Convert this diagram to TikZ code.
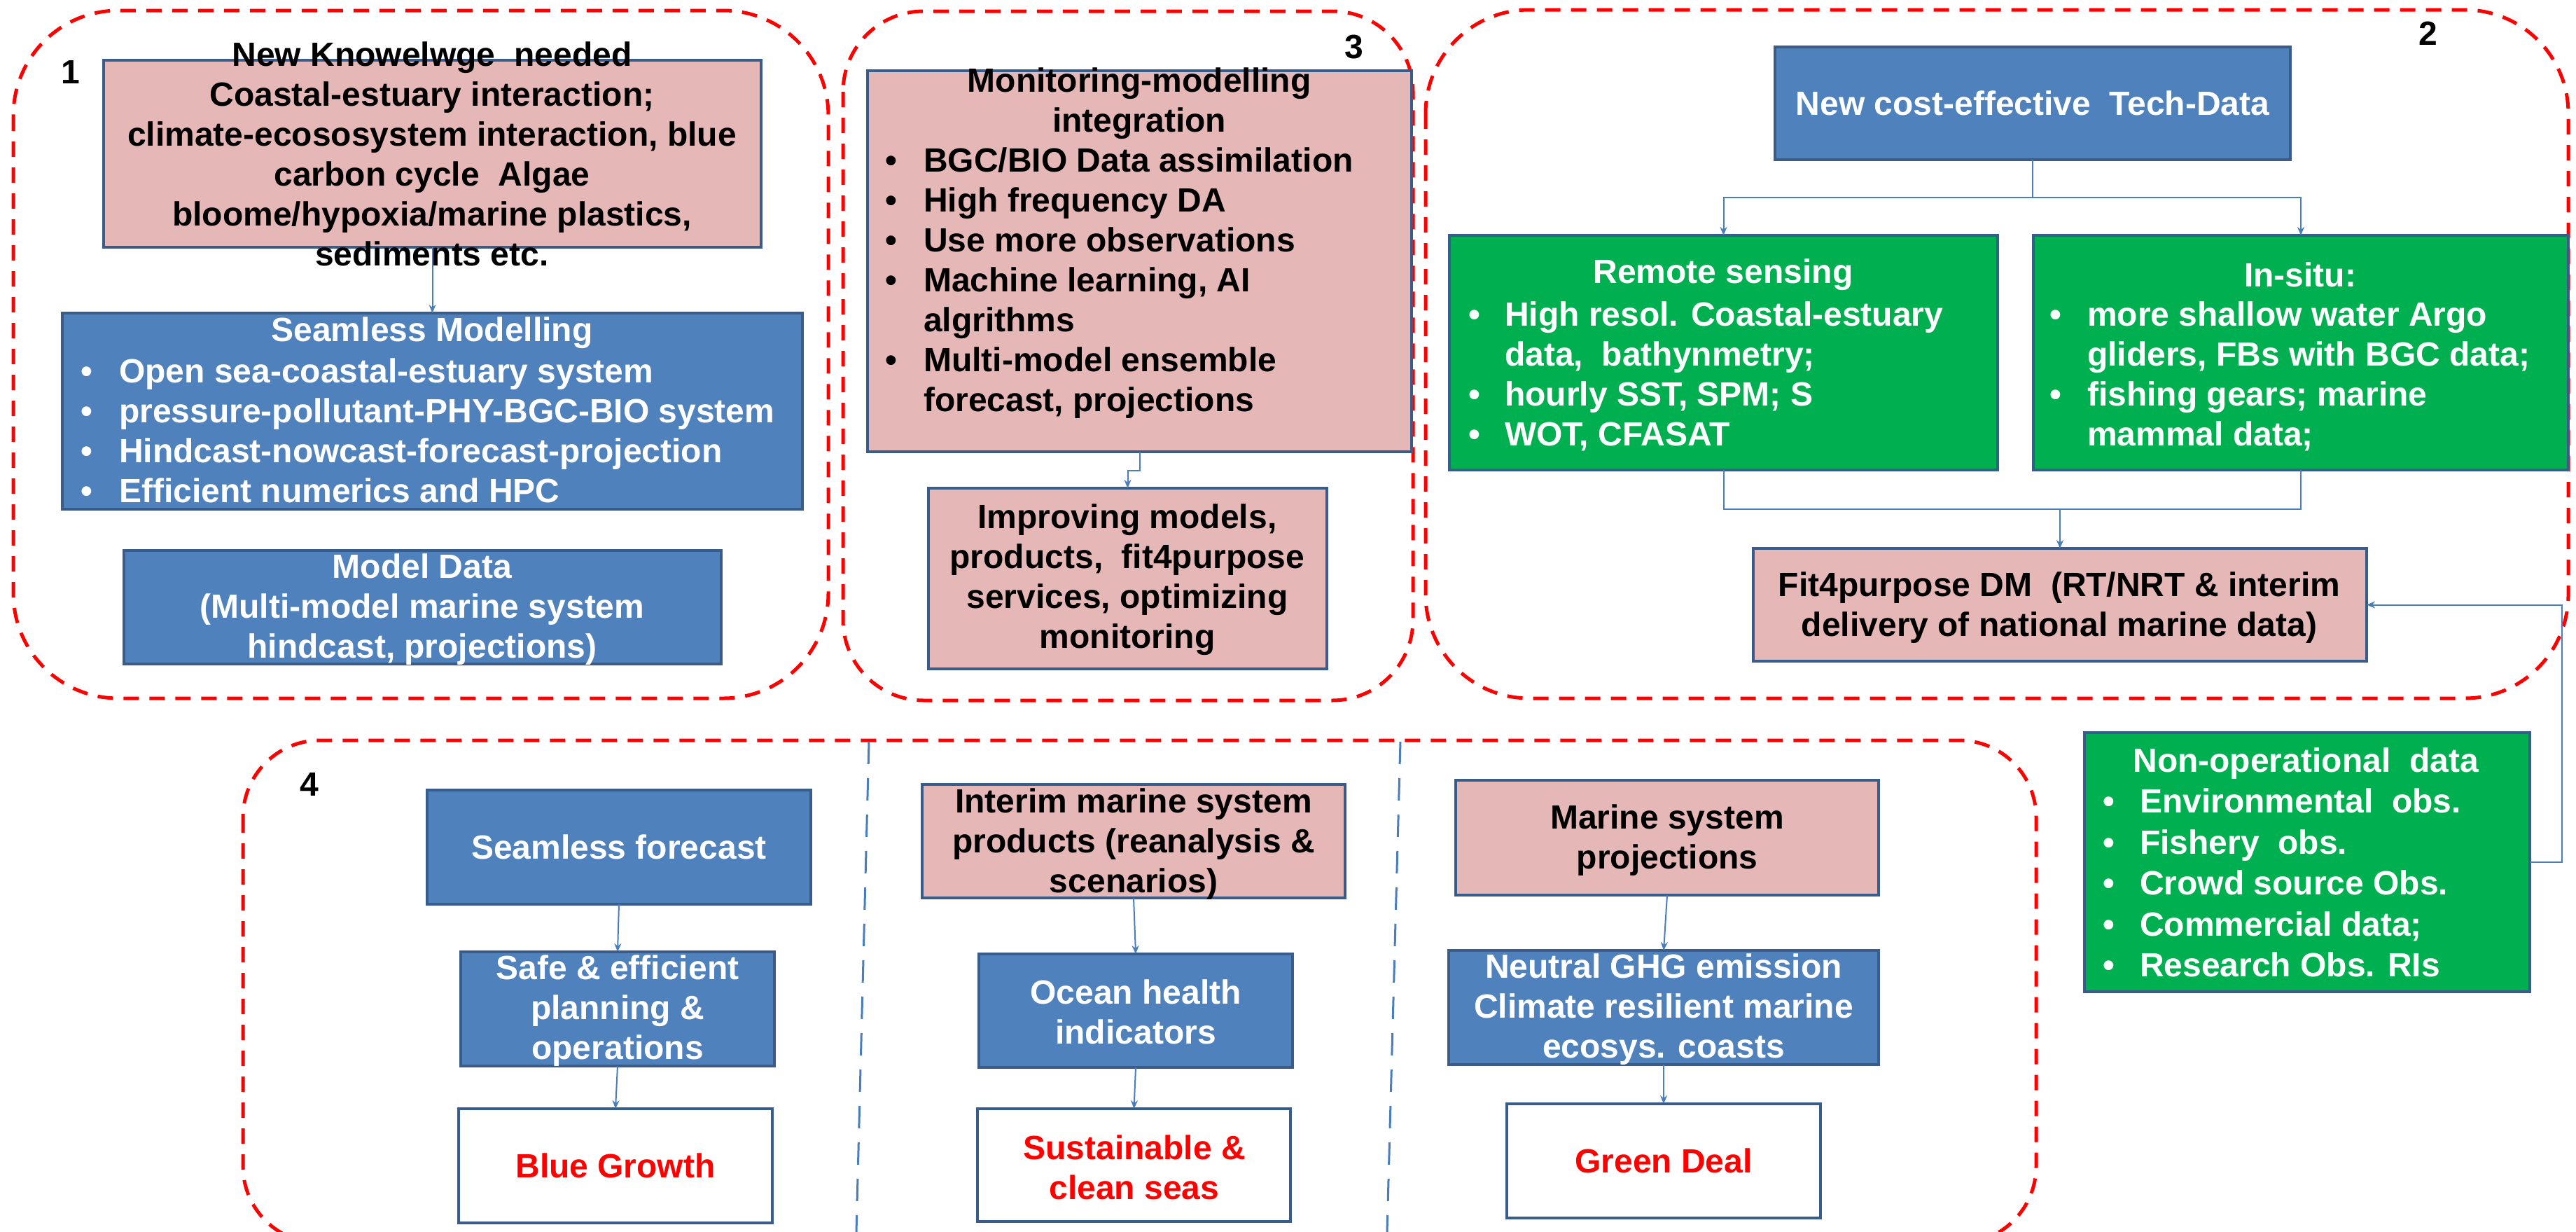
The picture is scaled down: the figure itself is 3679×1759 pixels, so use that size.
\documentclass[tikz,border=0pt]{standalone}
\usepackage{fontspec}
\setmainfont{Liberation Sans}
\usetikzlibrary{arrows.meta,fit}
\definecolor{bfill}{HTML}{4F81BD}
\definecolor{bdraw}{HTML}{385D8A}
\definecolor{pfill}{HTML}{E5B8B7}
\definecolor{gfill}{HTML}{00B050}
\definecolor{rline}{HTML}{FF0000}
\definecolor{cline}{HTML}{4A7EBB}
\newcommand{\bt}[1]{\makebox[#1][l]{\textbullet}}
\tikzset{
 box/.style={draw=bdraw, line width=4.5pt, inner sep=0pt, outer sep=0pt},
 bluebox/.style={box, fill=bfill},
 pinkbox/.style={box, fill=pfill},
 greenbox/.style={box, fill=gfill},
 whitebox/.style={box, fill=white},
 txt/.style={inner sep=0pt, align=center, font=\fontsize{48}{57}\selectfont\bfseries},
 wtxt/.style={txt, text=white},
 ktxt/.style={txt, text=black},
 rtxt/.style={txt, text=rline},
 ltxt/.style={inner sep=0pt, anchor=north west, align=left, font=\fontsize{48}{57}\selectfont\bfseries},
 region/.style={draw=rline, line width=5pt, dash pattern=on 22pt off 15pt},
 divider/.style={draw=cline, line width=3pt, dash pattern=on 32pt off 20pt},
 conn/.style={draw=cline, line width=2pt, -{Stealth[length=12pt,width=10pt]}},
 plainline/.style={draw=cline, line width=2pt},
 num/.style={inner sep=0pt, font=\fontsize{48}{57}\selectfont\bfseries},
}
\begin{document}
\begin{tikzpicture}[x=1pt,y=-1pt]
\useasboundingbox (0,0) rectangle (3679,1759);
\clip (0,0) rectangle (3679,1759);
\fill[white] (0,0) rectangle (3679,1759);

% regions
\draw[region, rounded corners=150] (19,15) rectangle (1183,997);
\draw[region, rounded corners=115] (1204,16) rectangle (2018,1000);
\draw[region, rounded corners=148] (2036,14) rectangle (3668,997);
\draw[region, rounded corners=110] (347,1057) rectangle (2908,1775);
\draw[divider] (1241,1059) -- (1223,1759);
\draw[divider] (2000,1059) -- (1981,1759);

\node[num] (n1) at (101,103) {1};
\node[num] (n3) at (1934,67) {3};
\node[num] (n2) at (3468,48) {2};
\node[num] (n4) at (442,1120) {4};

% ---------- region 1
\node[pinkbox, fit={(148,86) (1087,353)}] (k1) {};
\node[ktxt] (k1t) at (617,220) {New Knowelwge\ \ needed\\Coastal-estuary interaction;\\climate-ecososystem interaction, blue\\carbon cycle\ \ Algae\\bloome/hypoxia/marine plastics,\\sediments etc.};
\node[bluebox, fit={(89,447) (1146,727)}] (sm) {};
\node[wtxt] (smt) at (617,475) {Seamless Modelling};
\node[ltxt, text=white] (sml) at (115,512) {\bt{55pt}Open sea-coastal-estuary system\\\bt{55pt}pressure-pollutant-PHY-BGC-BIO system\\\bt{55pt}Hindcast-nowcast-forecast-projection\\\bt{55pt}Efficient numerics and HPC};
\node[bluebox, fit={(177,786) (1030,948)}] (md) {};
\node[wtxt] (mdt) at (603,870) {Model Data\\(Multi-model marine system\\hindcast, projections)};
\draw[conn] (k1.south) -- (sm.north);

% ---------- region 3
\node[pinkbox, fit={(1239,101) (2016,645)}] (mm) {};
\node[ktxt] (mmt) at (1627,148) {Monitoring-modelling\\integration};
\node[ltxt, text=black] (mml) at (1264,211) {\bt{55pt}BGC/BIO Data assimilation\\\bt{55pt}High frequency DA\\\bt{55pt}Use more observations\\\bt{55pt}Machine learning, AI\\\hspace*{55pt}algrithms\\\bt{55pt}Multi-model ensemble\\\hspace*{55pt}forecast, projections};
\node[pinkbox, fit={(1326,697) (1895,955)}] (imp) {};
\node[ktxt] (impt) at (1610,828) {Improving models,\\products,\ \ fit4purpose\\services, optimizing\\monitoring};
\draw[conn] (mm.south) -- ++(0,27) -| (imp.north);

% ---------- region 2
\node[bluebox, fit={(2535,67) (3271,228)}] (tech) {};
\node[wtxt] (techt) at (tech.center) {New cost-effective\ \ Tech-Data};
\node[greenbox, fit={(2070,336) (2853,671)}] (rs) {};
\node[wtxt] (rst) at (2461,392) {Remote sensing};
\node[ltxt, text=white] (rsl) at (2097,431) {\bt{52pt}High resol. Coastal-estuary\\\hspace*{52pt}data,\ \ bathynmetry;\\\bt{52pt}hourly SST, SPM; S\\\bt{52pt}WOT, CFASAT};
\node[greenbox, fit={(2904,336) (3668,671)}] (is) {};
\node[wtxt] (ist) at (3285,392) {In-situ:};
\node[ltxt, text=white] (isl) at (2927,431) {\bt{54pt}more shallow water Argo\\\hspace*{54pt}gliders, FBs with BGC data;\\\bt{54pt}fishing gears; marine\\\hspace*{54pt}mammal data;};
\node[pinkbox, fit={(2504,783) (3380,944)}] (fp) {};
\node[ktxt] (fpt) at (2941,868) {Fit4purpose DM\ \ (RT/NRT \& interim\\delivery of national marine data)};
\draw[conn] (tech.south) -- ++(0,54) -| (rs.north);
\draw[conn] (tech.south) -- ++(0,54) -| (is.north);
\draw[plainline] (rs.south) -- ++(0,56) coordinate (jl) -| (is.south);
\draw[conn] (jl -| fp.north) -- (fp.north);

% ---------- non-operational
\node[greenbox, fit={(2977,1046) (3613,1416)}] (no) {};
\node[wtxt] (not) at (3293,1090) {Non-operational\ \ data};
\node[ltxt, text=white, font=\fontsize{48}{58.5}\selectfont\bfseries] (nol) at (3003,1126) {\bt{53pt}Environmental\ \ obs.\\\bt{53pt}Fishery\ \ obs.\\\bt{53pt}Crowd source Obs.\\\bt{53pt}Commercial data;\\\bt{53pt}Research Obs. RIs};
\draw[conn] (no.east) -- ++(46,0) |- (fp.east);

% ---------- region 4
\node[bluebox, fit={(610,1128) (1158,1291)}] (sf) {};
\node[wtxt] (sft) at (sf.center) {Seamless forecast};
\node[bluebox, fit={(658,1359) (1106,1522)}] (se) {};
\node[wtxt] (set) at (882,1443) {Safe \& efficient\\planning \&\\operations};
\node[whitebox, fit={(655,1583) (1103,1746)}] (bg) {};
\node[rtxt] (bgt) at (bg.center) {Blue Growth};
\draw[conn] (sf.south) -- (se.north);
\draw[conn] (se.south) -- (bg.north);

\node[pinkbox, fit={(1317,1120) (1921,1282)}] (ims) {};
\node[ktxt] (imst) at (1619,1205) {Interim marine system\\products (reanalysis \&\\scenarios)};
\node[bluebox, fit={(1398,1362) (1846,1524)}] (oh) {};
\node[wtxt] (oht) at (1622,1445) {Ocean health\\indicators};
\node[whitebox, fit={(1396,1583) (1843,1744)}] (sc) {};
\node[rtxt] (sct) at (1620,1667) {Sustainable \&\\clean seas};
\draw[conn] (ims.south) -- (oh.north);
\draw[conn] (oh.south) -- (sc.north);

\node[pinkbox, fit={(2079,1114) (2683,1278)}] (msp) {};
\node[ktxt] (mspt) at (2381,1200) {Marine system\\projections};
\node[bluebox, fit={(2069,1357) (2683,1520)}] (ng) {};
\node[wtxt] (ngt) at (2376,1441) {Neutral GHG emission\\Climate resilient marine\\ecosys. coasts};
\node[whitebox, fit={(2152,1576) (2600,1739)}] (gd) {};
\node[rtxt] (gdt) at (gd.center) {Green Deal};
\draw[conn] (msp.south) -- (ng.north);
\draw[conn] (ng.south) -- (gd.north);
\end{tikzpicture}
\end{document}
